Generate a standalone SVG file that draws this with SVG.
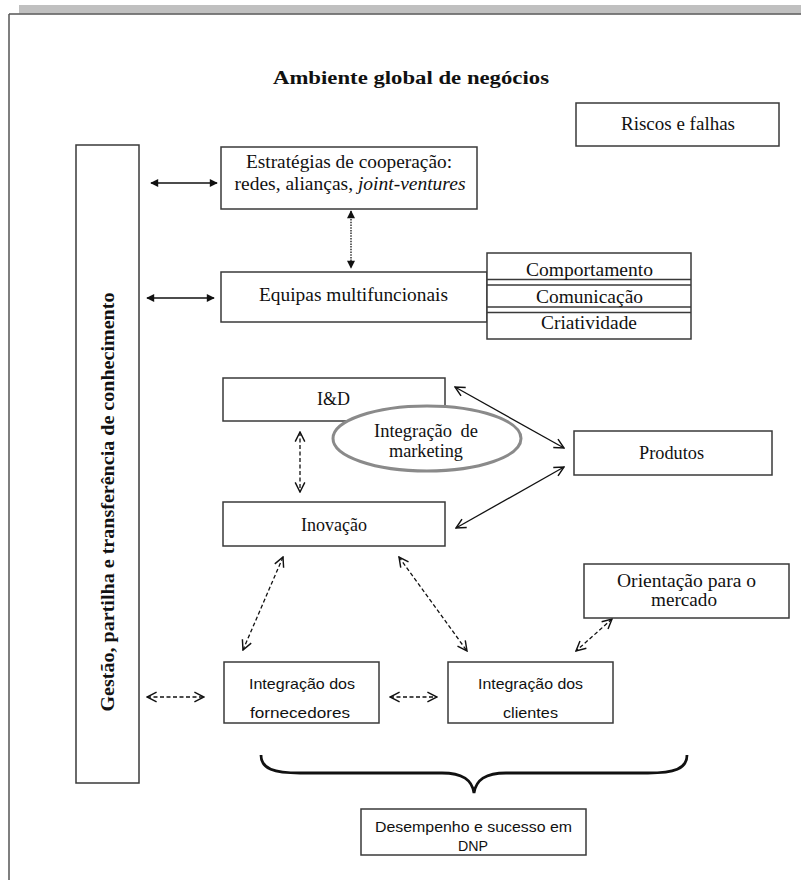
<svg xmlns="http://www.w3.org/2000/svg" width="801" height="880" viewBox="0 0 801 880">
<style>
.box{fill:#fff;stroke:#3a3a3a;stroke-width:1.5}
.s{font-family:"Liberation Serif","Times New Roman",Times,serif;font-size:18.5px;fill:#111;text-anchor:middle}
.b{font-weight:bold}
.sans{font-family:"Liberation Sans",Arial,sans-serif;font-size:15px;fill:#111;text-anchor:middle}
.c{fill:none;stroke:#111;stroke-width:1.3}
.dash{stroke-dasharray:4 2.5}
.dot{stroke-dasharray:1.5 1.2}
</style>
<defs>
<marker id="tri" viewBox="0 0 10 10" refX="9" refY="5" markerWidth="9" markerHeight="8" markerUnits="userSpaceOnUse" orient="auto-start-reverse"><path d="M0,0 L10,5 L0,10 z" fill="#111"/></marker>
<marker id="chev" viewBox="0 0 10 10" refX="9" refY="5" markerWidth="12" markerHeight="12" markerUnits="userSpaceOnUse" orient="auto-start-reverse"><path d="M1,1 L9,5 L1,9" fill="none" stroke="#111" stroke-width="1.2"/></marker>
</defs>
<rect x="0" y="0" width="801" height="880" fill="#fff"/>
<g id="frame">
<rect x="19" y="5" width="782" height="8.5" fill="#c0c0c0"/>
<line x1="9" y1="14" x2="801" y2="14" stroke="#555" stroke-width="1.5"/>
<line x1="9" y1="14" x2="9" y2="880" stroke="#555" stroke-width="1.5"/>
<text class="s b" x="411" y="84" font-size="20" textLength="276" lengthAdjust="spacingAndGlyphs">Ambiente global de negócios</text>
</g>
<g id="connectors">
<line class="c" x1="151" y1="183" x2="217" y2="183" marker-start="url(#tri)" marker-end="url(#tri)"/>
<line class="c" x1="147" y1="298" x2="214" y2="298" marker-start="url(#tri)" marker-end="url(#tri)"/>
<line class="c dot" x1="351" y1="211" x2="351" y2="268" marker-start="url(#tri)" marker-end="url(#tri)"/>
<line class="c dash" x1="300" y1="432" x2="300" y2="492" marker-start="url(#chev)" marker-end="url(#chev)"/>
<line class="c" x1="455" y1="387" x2="564" y2="448" marker-start="url(#chev)" marker-end="url(#chev)"/>
<line class="c" x1="456" y1="528" x2="564" y2="467" marker-start="url(#chev)" marker-end="url(#chev)"/>
<line class="c dash" x1="283" y1="557" x2="243" y2="650" marker-start="url(#chev)" marker-end="url(#chev)"/>
<line class="c dash" x1="399" y1="557" x2="467" y2="651" marker-start="url(#chev)" marker-end="url(#chev)"/>
<line class="c dash" x1="612" y1="619" x2="576" y2="651" marker-start="url(#chev)" marker-end="url(#chev)"/>
<line class="c dash" x1="147" y1="697" x2="204" y2="697" marker-start="url(#chev)" marker-end="url(#chev)"/>
<line class="c dash" x1="390" y1="697" x2="437" y2="697" marker-start="url(#chev)" marker-end="url(#chev)"/>
<path d="M261,755 C261,769 274,773 300,773 L442,773 C463,773 472,780 474,793 C476,780 485,773 506,773 L648,773 C674,773 687,769 687,755" fill="none" stroke="#111" stroke-width="2.8"/>
</g>
<g id="gestao">
<rect class="box" x="76" y="145" width="63" height="638"/>
<text class="s b" transform="translate(114,502) rotate(-90)" font-size="18" textLength="419" lengthAdjust="spacingAndGlyphs">Gestão, partilha e transferência de conhecimento</text>
</g>
<g id="riscos">
<rect class="box" x="576" y="103" width="203" height="43"/>
<text class="s" x="678" y="130" textLength="114" lengthAdjust="spacingAndGlyphs">Riscos e falhas</text>
</g>
<g id="estrategias">
<rect class="box" x="221" y="147" width="256" height="62"/>
<text class="s" x="349" y="168" textLength="206" lengthAdjust="spacingAndGlyphs">Estratégias de cooperação:</text>
<text class="s" x="350" y="190" textLength="231" lengthAdjust="spacingAndGlyphs">redes, alianças, <tspan font-style="italic">joint-ventures</tspan></text>
</g>
<g id="equipas">
<rect class="box" x="221" y="272" width="266" height="50"/>
<text class="s" x="353.5" y="301" textLength="189" lengthAdjust="spacingAndGlyphs">Equipas multifuncionais</text>
</g>
<g id="competencias">
<rect class="box" x="487" y="253" width="204" height="86"/>
<line x1="487" y1="279.5" x2="691" y2="279.5" stroke="#3a3a3a" stroke-width="1.3"/>
<line x1="487" y1="285" x2="691" y2="285" stroke="#3a3a3a" stroke-width="1.3"/>
<line x1="487" y1="307" x2="691" y2="307" stroke="#3a3a3a" stroke-width="1.3"/>
<line x1="487" y1="312.5" x2="691" y2="312.5" stroke="#3a3a3a" stroke-width="1.3"/>
<text class="s" x="589.5" y="276" textLength="127" lengthAdjust="spacingAndGlyphs">Comportamento</text>
<text class="s" x="589.5" y="303" textLength="107" lengthAdjust="spacingAndGlyphs">Comunicação</text>
<text class="s" x="589" y="329" textLength="96" lengthAdjust="spacingAndGlyphs">Criatividade</text>
</g>
<g id="id">
<rect class="box" x="223" y="378" width="222" height="43"/>
<text class="s" x="333.5" y="405" textLength="33" lengthAdjust="spacingAndGlyphs">I&amp;D</text>
</g>
<g id="marketing">
<ellipse cx="427" cy="438.5" rx="94" ry="32.5" fill="#fff" stroke="#8a8a8a" stroke-width="3"/>
<text class="s" x="374" y="437" style="text-anchor:start">Integração</text>
<text class="s" x="478" y="437" style="text-anchor:end">de</text>
<text class="s" x="426" y="457" textLength="74" lengthAdjust="spacingAndGlyphs">marketing</text>
</g>
<g id="produtos">
<rect class="box" x="574" y="431" width="198" height="44"/>
<text class="s" x="671.5" y="459" textLength="65" lengthAdjust="spacingAndGlyphs">Produtos</text>
</g>
<g id="inovacao">
<rect class="box" x="223" y="502" width="222" height="44"/>
<text class="s" x="334" y="531" textLength="66" lengthAdjust="spacingAndGlyphs">Inovação</text>
</g>
<g id="orientacao">
<rect class="box" x="584" y="564" width="205" height="54"/>
<text class="s" x="686.5" y="587" textLength="139" lengthAdjust="spacingAndGlyphs">Orientação para o</text>
<text class="s" x="684" y="606" textLength="66" lengthAdjust="spacingAndGlyphs">mercado</text>
</g>
<g id="fornecedores">
<rect class="box" x="224" y="662" width="155" height="61"/>
<text class="sans" x="302" y="689" textLength="106" lengthAdjust="spacingAndGlyphs">Integração dos</text>
<text class="sans" x="300" y="718" textLength="100" lengthAdjust="spacingAndGlyphs">fornecedores</text>
</g>
<g id="clientes">
<rect class="box" x="448" y="662" width="165" height="61"/>
<text class="sans" x="530.5" y="689" textLength="105" lengthAdjust="spacingAndGlyphs">Integração dos</text>
<text class="sans" x="530.5" y="718" textLength="55" lengthAdjust="spacingAndGlyphs">clientes</text>
</g>
<g id="desempenho">
<rect class="box" x="361" y="809" width="225" height="46"/>
<text class="sans" x="473.5" y="832" textLength="197" lengthAdjust="spacingAndGlyphs">Desempenho e sucesso em</text>
<text class="sans" x="473" y="851" textLength="30" lengthAdjust="spacingAndGlyphs">DNP</text>
</g>
</svg>
